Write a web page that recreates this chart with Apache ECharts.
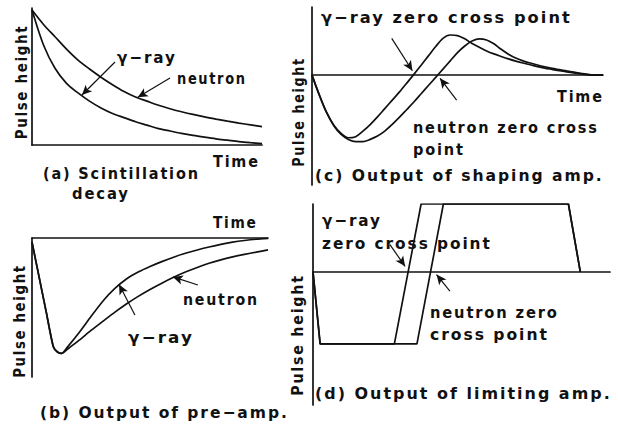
<!DOCTYPE html>
<html><head><meta charset="utf-8">
<script src="https://cdn.jsdelivr.net/npm/echarts@6/dist/echarts.min.js"></script>
<style>
html,body{margin:0;padding:0;background:#fff;}
#chart{width:618px;height:424px;}
#chart text{letter-spacing:2px;}
</style></head><body><div id="chart"></div>
<script>
// (a) scintillation decay, time on a 0..100 scale, step 5
const aTime    = [0, 5, 10, 15, 20, 25, 30, 35, 40, 45, 50, 55, 60, 65, 70, 75, 80, 85, 90, 95, 100];
const aGamma   = [98.5, 73, 56, 45, 38, 32, 27, 23, 20, 17, 14.5, 12, 10.2, 8.5, 7, 5.7, 4.5, 3.5, 2.5, 1.7, 1];
const aNeutron = [98.5, 88, 79, 70, 62, 55.5, 49.5, 44, 39, 35, 32, 29, 26.5, 24.3, 22.3, 20.5, 18.9, 17.4, 16, 14.7, 13.4];

// (b) pre-amp output (negative going)
const bTime    = [0, 3, 6, 9, 10.8, 12.6, 15, 20, 25, 30, 35, 40, 45, 50, 55, 60, 65, 70, 75, 80, 85, 90, 95, 100];
const bGamma   = [-3, -28, -53, -78, -82, -83, -78.5, -68, -56.5, -45.5, -36.5, -29.5, -24.5, -20.5, -17, -13.8, -11, -8.6, -6.5, -4.6, -3, -1.8, -0.9, -0.3];
const bNeutron = [-3, -28, -53, -78, -82, -83, -80, -73.5, -66.5, -60, -53.5, -47.5, -42, -37, -32.5, -28.3, -24.5, -21.2, -18.2, -15.7, -13.6, -11.8, -10.2, -8.6];

// (c) shaping amp output (bipolar), step 2.5
const cTime    = [0, 2.5, 5, 7.5, 10, 12.5, 15, 17.5, 20, 22.5, 25, 27.5, 30, 32.5, 35, 37.5, 40, 42.5, 45, 47.5,
                  50, 52.5, 55, 57.5, 60, 62.5, 65, 67.5, 70, 72.5, 75, 77.5, 80, 82.5, 85, 87.5, 90, 92.5, 95, 97.5, 100];
const cGamma   = [0, -18, -34, -45.5, -53, -57, -56, -51, -45, -38, -30.5, -23, -15.5, -7.5, 0.7, 9, 17.5, 26, 33.5, 36.5,
                  36, 33, 28.8, 25.3, 22, 19.3, 17, 14.8, 12.8, 11, 9.4, 7.8, 6.4, 5.2, 4, 3, 2, 1, 0.3, 0, 0];
const cNeutron = [0, -18, -34, -46, -54, -58.5, -60.5, -60.5, -58.5, -55.5, -51, -45, -38.5, -31.5, -24.5, -17, -9.5, -2, 5.5, 13,
                  20.5, 26.5, 31, 33, 32, 28.5, 23.5, 19, 15.5, 13, 11, 9.2, 7.6, 6.2, 5, 3.8, 2.7, 1.6, 0.6, 0, 0];

// (d) limiting amp output (clipped)
const dGammaT   = [0, 2.4, 27.4, 36.4, 86, 90];
const dGamma    = [0, -53, -53, 50, 50, 0];
const dNeutronT = [0, 2.4, 35, 43.9, 86, 90];
const dNeutron  = [0, -53, -53, 50, 50, 0];

// pointer arrows, [tail, head] in each panel's data units
const aArrows = [[[36.1, 60.6], [21.7, 36.5]], [[60, 48.9], [46, 34.8]]];
const bArrows = [[[70.3, -33.8], [59.7, -28]], [[43.6, -55.4], [36.9, -33.5]]];
const cArrows = [[[27.4, 33.5], [34.5, 4]], [[49.7, -22.7], [44, -2.9]]];
const dArrows = [[[25.9, 20.1], [31, 4.1]], [[46.1, -14.2], [41.6, -2]]];

// axis ranges per panel: [xmin, xmax, ymin, ymax]
const ranges = [[0, 100, 0, 100], [0, 100, -100, 0], [0, 100, -100, 62], [0, 100, -98, 50]];

const INK = '#111';
const FONT = 'bold 16px "DejaVu Sans"';
const SPACING = 2;

const grids = [
  {left: 32,  top: 8,   width: 230, height: 137},
  {left: 32,  top: 238, width: 236, height: 139},
  {left: 312, top: 7,   width: 291, height: 178},
  {left: 313, top: 204, width: 297, height: 201}
];

// captions: left edge, vertical centre, run length
const notes = [
  {text: 'γ−ray', x: 117, y: 58, w: 58},
  {text: 'neutron', x: 177, y: 78, w: 68},
  {text: 'Time', x: 213, y: 162, w: 45},
  {text: '(a) Scintillation', x: 43, y: 174, w: 155},
  {text: 'decay', x: 72, y: 194, w: 56},
  {text: 'Time', x: 213, y: 223, w: 43},
  {text: 'neutron', x: 183, y: 300, w: 74},
  {text: 'γ−ray', x: 128, y: 338, w: 64},
  {text: '(b) Output of pre−amp.', x: 40, y: 412, w: 247},
  {text: 'γ−ray zero cross point', x: 321, y: 18, w: 249},
  {text: 'Time', x: 557, y: 97, w: 45},
  {text: 'neutron zero cross', x: 413, y: 128, w: 184},
  {text: 'point', x: 413, y: 150, w: 50},
  {text: '(c) Output of shaping amp.', x: 315, y: 175, w: 287},
  {text: 'γ−ray', x: 322, y: 221, w: 58},
  {text: 'zero cross point', x: 322, y: 243, w: 168},
  {text: 'neutron zero', x: 430, y: 313, w: 127},
  {text: 'cross point', x: 430, y: 334, w: 117},
  {text: '(d) Output of limiting amp.', x: 315, y: 393, w: 295}
];
const yTitles = [{x: 21, y: 82, w: 113}, {x: 19, y: 321, w: 112}, {x: 298, y: 112, w: 108}, {x: 298, y: 335, w: 120}];

const zip = (xs, ys) => xs.map((x, i) => [x, ys[i]]);

const measureCtx = document.createElement('canvas').getContext('2d');
function stretch(text, w) {
  measureCtx.font = FONT;
  const natural = measureCtx.measureText(text).width + SPACING * (text.length - 1);
  return w / natural;
}

function axis(i, isX) {
  const r = ranges[i];
  return {
    gridIndex: i, type: 'value',
    min: isX ? r[0] : r[2], max: isX ? r[1] : r[3],
    axisLine: {show: true, onZero: true, lineStyle: {color: INK, width: 1.7}},
    axisTick: {show: false}, axisLabel: {show: false}, splitLine: {show: false}
  };
}

function curve(i, xs, ys, arrows, smooth) {
  const s = {
    type: 'line', xAxisIndex: i, yAxisIndex: i,
    data: zip(xs, ys), showSymbol: false, smooth: smooth,
    lineStyle: {color: INK, width: 1.7}, silent: true, z: 3
  };
  if (arrows) {
    s.markLine = {
      silent: true, symbol: ['none', 'arrow'], symbolSize: [7, 10],
      label: {show: false},
      lineStyle: {color: INK, width: 1.2, type: 'solid'},
      emphasis: {disabled: true},
      data: arrows.map(a => [{coord: a[0]}, {coord: a[1]}])
    };
  }
  return s;
}

const chart = echarts.init(document.getElementById('chart'), null, {renderer: 'svg'});

const graphic = notes.map(n => ({
  type: 'text', x: n.x, y: n.y, scaleX: stretch(n.text, n.w), silent: true,
  style: {text: n.text, font: FONT, fill: INK, align: 'left', verticalAlign: 'middle'}
})).concat(yTitles.map(p => ({
  type: 'text', x: p.x, y: p.y, rotation: Math.PI / 2, scaleX: stretch('Pulse height', p.w), silent: true,
  style: {text: 'Pulse height', font: FONT, fill: INK, align: 'center', verticalAlign: 'middle'}
})));

chart.setOption({
  animation: false,
  backgroundColor: '#fff',
  grid: grids,
  xAxis: [0, 1, 2, 3].map(i => axis(i, true)),
  yAxis: [0, 1, 2, 3].map(i => axis(i, false)),
  series: [
    curve(0, aTime, aGamma, aArrows, 0.3),
    curve(0, aTime, aNeutron, null, 0.3),
    curve(1, bTime, bGamma, bArrows, 0.2),
    curve(1, bTime, bNeutron, null, 0.2),
    curve(2, cTime, cGamma, cArrows, 0.3),
    curve(2, cTime, cNeutron, null, 0.3),
    curve(3, dGammaT, dGamma, dArrows, false),
    curve(3, dNeutronT, dNeutron, null, false)
  ],
  graphic: graphic
});
</script></body></html>
